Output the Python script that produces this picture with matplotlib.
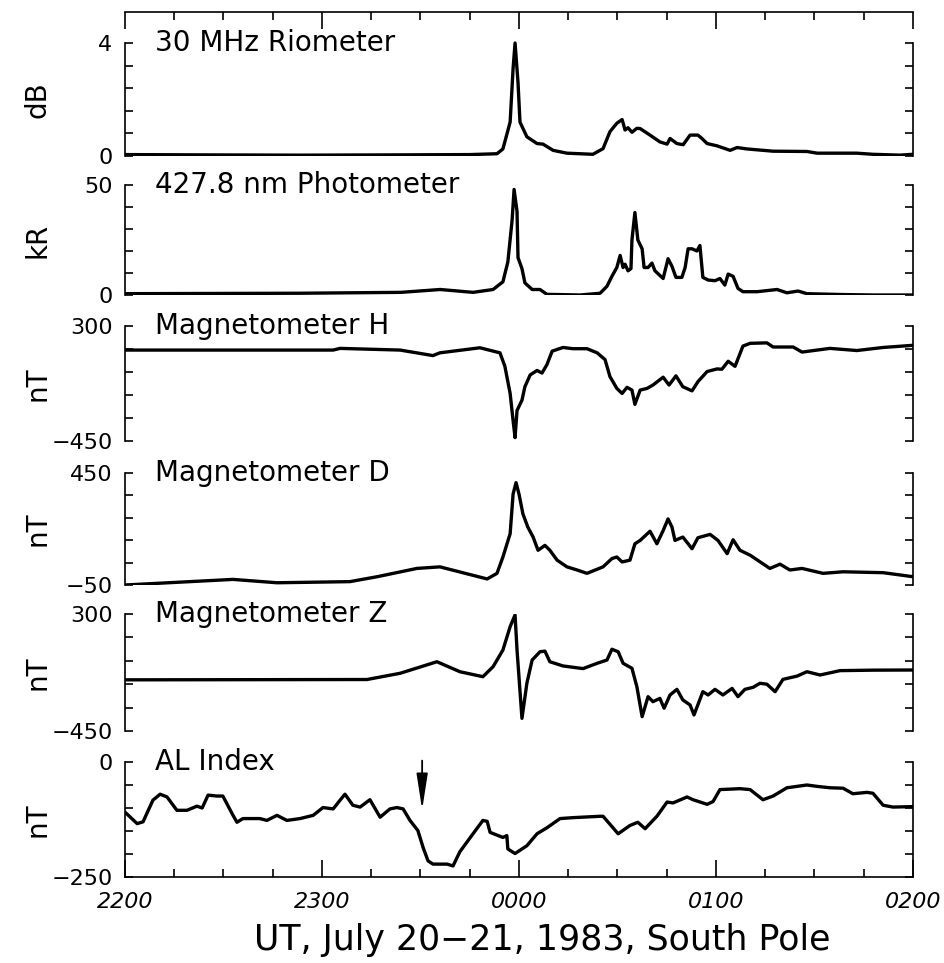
import numpy as np
import matplotlib
matplotlib.use("Agg")
import matplotlib.pyplot as plt
from matplotlib.ticker import MultipleLocator, FixedLocator

# Time axis in minutes after 2200 UT
tick_minutes = [0, 60, 120, 180, 240]
tick_labels = ["2200", "2300", "0000", "0100", "0200"]

# 30 MHz riometer (dB)
rio_t = [0, 23, 53, 84, 105, 113.3, 115.1, 117.3, 118.2, 118.8, 119.7, 120.3, 122.4, 125.5, 127.3,
         130.4, 134.6, 142.5, 145.6, 147.7, 149.8, 151.4, 152.3, 153.2, 154.4, 155.9, 156.9, 159.9,
         162.9, 165.1, 166, 168.1, 170, 172.1, 174.5, 175.7, 177.3, 180.3, 184.3, 186.4, 189.4,
         197.4, 207.7, 210.8, 222.9, 227.8, 236, 240]
rio_v = [0.05, 0.04, 0.03, 0.04, 0.05, 0.08, 0.25, 1.2, 3.1, 4.0, 2.6, 1.2, 0.68, 0.44, 0.42,
         0.2, 0.1, 0.06, 0.26, 0.86, 1.16, 1.29, 0.92, 1.0, 0.84, 0.98, 0.97, 0.74,
         0.5, 0.42, 0.62, 0.44, 0.4, 0.74, 0.74, 0.62, 0.44, 0.36, 0.2, 0.3, 0.25,
         0.17, 0.16, 0.1, 0.1, 0.06, 0.03, 0.06]

# 427.8 nm photometer (kR)
phot_t = [0, 53, 84, 96, 106, 112.1, 115.1, 116.6, 117.9, 118.5, 119.4, 119.7, 120.9, 121.8, 124,
          126.4, 128.5, 138.6, 144.7, 146.8, 148.3, 149.8, 150.8, 151.7, 152.3, 153.2, 154.1, 154.4,
          155.3, 156.2, 157.5, 158.1, 159.3, 160.5, 161.4, 163.9, 165.4, 166.6, 167.8, 169.6, 170.6,
          171.5, 172.7, 174.2, 175.1, 176, 177.6, 179.7, 181.2, 182.7, 183.7, 185.2, 186.7, 188.2,
          192.5, 198.6, 201.6, 205, 207.7, 218.7, 227.8, 240]
phot_v = [0.6, 0.8, 1.2, 2.5, 1.2, 2.5, 6, 15, 34, 48, 38, 17, 12, 5.5, 2.5,
          2.5, 0.3, 0, 0.8, 4, 8.5, 12.5, 18, 12.5, 14, 11, 12, 25,
          37.5, 25, 21, 12.5, 12.5, 14.5, 11, 7.5, 16.5, 13, 8, 8, 12.5,
          21, 21, 20, 22.5, 8, 6.8, 6.5, 7.5, 4.5, 9.5, 8.5, 3, 1.5,
          1.5, 2.5, 1, 1.8, 0.6, 0.2, 0, 0]

# Magnetometer H (nT)
magh_t = [0, 63.4, 65.5, 83.8, 93.8, 95.9, 108.1, 114.2, 115.7, 117.3, 118.2, 118.8, 119.4, 120.9,
          121.8, 123.4, 125.5, 127, 128.5, 130.1, 133.4, 136.4, 140.7, 143.8, 146.2, 147.7, 149.8,
          151.4, 152.9, 154.4, 155.3, 156.9, 159, 160.8, 163.9, 165.7, 167.8, 169.9, 172.7, 174.5,
          177.3, 180.3, 181.8, 183.7, 185.8, 188.2, 190.4, 195.5, 197.4, 203.5, 206.2, 214.7, 222.9,
          230.9, 240]
magh_v = [143, 143, 154, 143, 107, 125, 158, 125, 37, -140, -317, -428, -251, -184,
          -96, -19, 10, -7, 48, 136, 160, 152, 152, 125, 81, -30, -107,
          -140, -100, -118, -211, -118, -107, -85, -34, -85, -25, -96, -123, -63,
          3, 20, 18, 70, 37, 169, 187, 190, 163, 163, 130, 154, 140,
          160, 174]

# Magnetometer D (nT)
magd_t = [0, 32.9, 46.3, 68.5, 76.8, 88.9, 95.9, 110.3, 113.3, 115.1, 117.3, 118.2, 119.1, 120,
          121.2, 122.7, 124.3, 125.8, 127.9, 129.4, 131.6, 134.6, 137.7, 140.7, 145.6, 148.3, 149.8,
          151.4, 153.8, 155.3, 156.9, 159.9, 162, 163.9, 165.4, 166.6, 167.5, 169.9, 172.7, 174.5,
          178.2, 180.6, 183.4, 185.2, 187.3, 190.4, 196.4, 199.5, 202.5, 206.2, 212.6, 218.7, 230.9,
          240]
magd_v = [-50, -25, -40, -35, -13, 24, 31, -23, 2, 75, 179, 356, 407, 356,
          267, 208, 164, 105, 127, 105, 61, 31, 17, 2, 31, 68, 75,
          53, 61, 134, 149, 190, 134, 193, 245, 208, 149, 164, 112, 161,
          176, 149, 90, 152, 105, 83, 24, 43, 17, 24, 2, 9, 5,
          -13]

# Magnetometer Z (nT)
magz_t = [0, 73.7, 83.8, 95, 102, 109, 112.1, 115.1, 117.3, 118.8, 119.4, 120.9, 122.4, 124,
          126.4, 127.9, 129.4, 133.4, 139.5, 143.8, 146.8, 148.3, 150.2, 151.7, 154.4, 155.9, 157.5,
          159.3, 160.8, 162.9, 164.2, 166, 168.1, 169.9, 172.1, 173.3, 176, 177.6, 179.7, 182.1,
          184.9, 186.7, 188.8, 191.3, 193.4, 195.5, 198, 200.4, 204.7, 207.7, 211.7, 217.8, 227.8,
          240]
magz_v = [-122, -120, -80, -6, -70, -102, -38, 69, 219, 294, 69, -369, -144, 5,
          58, 62, -6, -33, -50, -16, 5, 74, 58, -16, -48, -166, -358,
          -230, -262, -241, -304, -219, -183, -251, -283, -347, -198, -219, -183, -219,
          -177, -230, -183, -170, -144, -150, -198, -119, -98, -70, -91, -63, -60,
          -59]

# AL index (nT)
al_t = [0, 3.7, 5.5, 8.5, 10.7, 12.8, 15.8, 18.9, 21.9, 23.5, 25.3, 28, 29.8, 32.9, 34.1,
        35.9, 41.1, 43.2, 46.3, 49.3, 53.3, 57.3, 60.3, 63.4, 65.5, 67, 69.4, 71.6, 74.6, 77.7,
        80.7, 82.8, 84.7, 86.8, 89.2, 90.8, 92.3, 93.8, 98.1, 99.9, 102, 106, 109, 110.3, 111.2,
        115.1, 116.3, 116.6, 118.8, 122.4, 125.5, 128.5, 132.5, 136.4, 144.7, 145.6, 150.2, 153.8,
        156.2, 158.4, 162, 165.1, 166.9, 171.2, 173, 177.3, 179.1, 181.2, 187.3, 190.4, 194.3,
        197.4, 201.6, 207.7, 210.8, 214.7, 218.7, 221.7, 226, 227.8, 230.9, 233.9, 240]
al_v = [-109, -134, -130, -83, -70, -76, -105, -105, -96, -100, -72, -74, -74, -116, -131,
        -123, -123, -127, -116, -127, -123, -116, -99, -102, -83, -70, -94, -98, -82, -120,
        -102, -99, -102, -127, -149, -186, -215, -222, -222, -226, -195, -156, -127, -129, -153,
        -164, -160, -189, -199, -182, -156, -143, -123, -121, -118, -118, -156, -138,
        -131, -145, -118, -87, -89, -76, -82, -92, -86, -60, -58, -60, -82,
        -74, -56, -50, -53, -56, -57, -69, -66, -68, -94, -98, -97]
arrow_minute = 90.5

titles = ["30 MHz Riometer", "427.8 nm Photometer", "Magnetometer H",
          "Magnetometer D", "Magnetometer Z", "AL Index"]
units = ["dB", "kR", "nT", "nT", "nT", "nT"]
y_ranges = [(0, 4), (0, 50), (-450, 300), (-50, 450), (-450, 300), (-250, 0)]
series = [(rio_t, rio_v), (phot_t, phot_v), (magh_t, magh_v),
          (magd_t, magd_v), (magz_t, magz_v), (al_t, al_v)]

# pixel layout of the panels (top value, bottom value), figure is 945 x 963
W, H = 945, 963
left_px, right_px = 125, 913
top_frame_px = 12
panel_px = [(43, 156), (185, 295), (326, 441), (473, 585), (614, 731), (762, 877)]

def fmt(v):
    s = "%g" % v
    return s.replace("-", "\u2212")

fig = plt.figure(figsize=(W / 100, H / 100), dpi=100)
axes = []
for i in range(6):
    lo, hi = y_ranges[i]
    ptop, pbot = panel_px[i]
    if i == 0:
        ax_top = top_frame_px
        hi_ext = hi + (ptop - top_frame_px) * (hi - lo) / (pbot - ptop)
    else:
        ax_top = ptop
        hi_ext = hi
    rect = [left_px / W, 1 - pbot / H, (right_px - left_px) / W, (pbot - ax_top) / H]
    ax = fig.add_axes(rect)
    ax.patch.set_alpha(0)
    t, v = series[i]
    ax.plot(t, v, color="black", lw=2.4, solid_joinstyle="round", solid_capstyle="round")
    ax.set_xlim(0, 240)
    ax.set_ylim(lo, hi_ext)

    for side in ["left", "right", "top", "bottom"]:
        ax.spines[side].set_linewidth(1.2)
    ax.spines["left"].set_bounds(lo, hi)
    ax.spines["right"].set_bounds(lo, hi)
    ax.spines["top"].set_visible(i == 0)
    ax.spines["bottom"].set_visible(i == 5)

    yt = np.linspace(lo, hi, 6)
    ax.yaxis.set_major_locator(FixedLocator(yt))
    ax.set_yticklabels([fmt(lo)] + [""] * 4 + [fmt(hi)])
    ax.tick_params(axis="y", direction="in", length=6, width=1.2, left=True, right=True,
                   labelsize=16, pad=9)

    ax.xaxis.set_major_locator(FixedLocator(tick_minutes))
    ax.xaxis.set_minor_locator(MultipleLocator(15))
    ax.tick_params(axis="x", which="major", direction="in", length=12, width=1.2)
    ax.tick_params(axis="x", which="minor", direction="in", length=6, width=1.2)
    ax.tick_params(axis="x", which="both", top=(i == 0), bottom=(i == 5),
                   labelbottom=(i == 5), labeltop=False)
    if i == 5:
        ax.set_xticklabels(tick_labels, fontsize=16, style="italic")
        ax.tick_params(axis="x", which="major", pad=11)

    ax.text(0.038, hi, titles[i], transform=ax.get_yaxis_transform(),
            ha="left", va="center", fontsize=20)
    fig.text(38 / W, 1 - (ptop + pbot) / 2 / H, units[i], rotation=90,
             ha="center", va="center", fontsize=20)
    axes.append(ax)

# substorm onset arrow on the AL panel
axes[5].annotate("", xy=(arrow_minute, -104), xytext=(arrow_minute, 3),
                 arrowprops=dict(arrowstyle="-|>,head_length=1.1,head_width=0.17",
                                 color="black", lw=1.3, shrinkA=0, shrinkB=0,
                                 mutation_scale=20),
                 annotation_clip=False)

fig.text(542 / W, 1 - 940 / H, "UT, July 20\u221221, 1983, South Pole",
         ha="center", va="center", fontsize=25)

fig.savefig("out.png", dpi=100)
